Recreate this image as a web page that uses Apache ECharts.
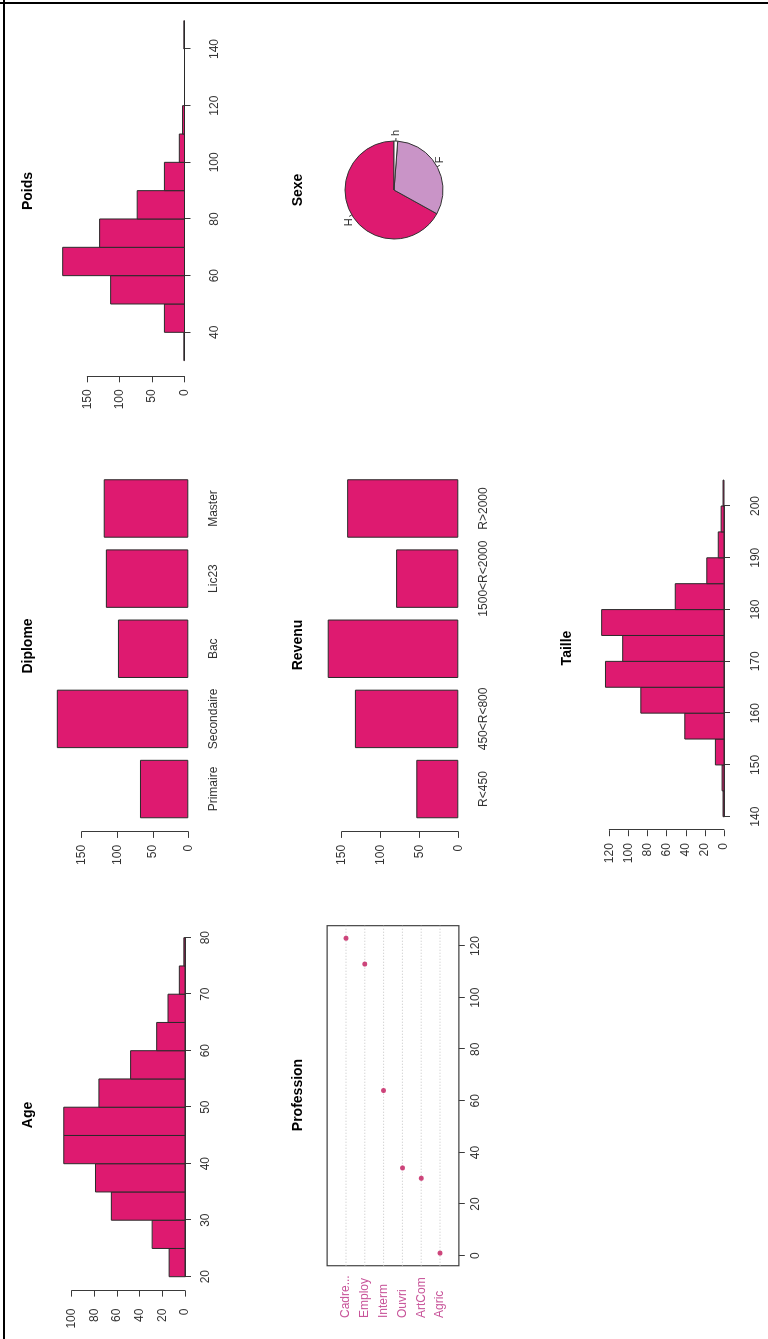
<!DOCTYPE html>
<html>
<head>
<meta charset="utf-8">
<script src="https://cdn.jsdelivr.net/npm/echarts@6/dist/echarts.min.js"></script>
<style>
html,body{margin:0;padding:0;background:#fff;overflow:hidden;width:768px;height:1339px;}
#wrap{position:absolute;left:0;top:0;width:1339px;height:768px;transform-origin:0 0;transform:translate(0,1339px) rotate(-90deg);}
#chart{width:1339px;height:768px;}
.fl{position:absolute;background:#000;}
</style>
</head>
<body>
<div id="wrap"><div id="chart"></div></div>
<div class="fl" style="left:3px;top:0;width:2px;height:1339px"></div>
<div class="fl" style="left:0;top:2px;width:768px;height:2px"></div>
<script>
// ---------- data ----------
const ageBreaks = [20,25,30,35,40,45,50,55,60,65,70,75,80];
const ageCounts = [14,29,65,79,107,107,76,48,25,15,5,1];
const ageXTicks = [20,30,40,50,60,70,80];
const ageYTicks = [0,20,40,60,80,100];

const poidsBreaks = [30,40,50,60,70,80,90,100,110,120,130,140,150];
const poidsCounts = [1,31,114,188,131,73,31,8,3,0,0,1];
const poidsXTicks = [40,60,80,100,120,140];
const poidsYTicks = [0,50,100,150];

const tailleBreaks = [140,145,150,155,160,165,170,175,180,185,190,195,200,205];
const tailleCounts = [1,2,9,41,87,124,106,128,51,18,6,3,1];
const tailleXTicks = [140,150,160,170,180,190,200];
const tailleYTicks = [0,20,40,60,80,100,120];

const diplomeCats = ['Primaire','Secondaire','Bac','Lic23','Master'];
const diplomeCounts = [68,185,99,116,119];
const diplomeYTicks = [0,50,100,150];

const revenuCats = ['R<450','450<R<800','800<R<1500','1500<R<2000','R>2000'];
const revenuCounts = [54,133,168,80,143];
const revenuYTicks = [0,50,100,150];
const revenuHiddenLabel = 2;

const professionCats = ['Agric','ArtCom','Ouvri','Interm','Employ','Cadre...'];
const professionCounts = [1,30,34,64,113,123];
const professionXTicks = [0,20,40,60,80,100,120];

const sexeCats = ['H','F','h'];
const sexeCounts = [389,185,7];

const titles = ['Age','Diplome','Poids','Profession','Revenu','Sexe','Taille'];

// ---------- styles ----------
const FONT = "'Liberation Sans', Arial, Helvetica, sans-serif";
const BAR = '#DE1A70';
const EDGE = '#2a2a2a';
const AX = '#3a3a3a';
const TXT = '#333333';
const PINK_TXT = '#C8559A';
const DOT = '#C2185B';

function hist(breaks, counts){ return counts.map((c,i)=>[breaks[i], breaks[i+1], c]); }
function histItem(params, api){
  const a = api.coord([api.value(0), 0]);
  const b = api.coord([api.value(1), api.value(2)]);
  return {type:'rect', shape:{x:a[0], y:b[1], width:b[0]-a[0], height:a[1]-b[1]},
          style:{fill:BAR, stroke:EDGE, lineWidth:1}};
}
function valAxis(gi, ticks, offset, labelMargin, extra){
  return Object.assign({
    type:'value', gridIndex:gi, min:ticks[0], max:ticks[ticks.length-1], interval:ticks[1]-ticks[0],
    offset:offset,
    axisLine:{show:true, lineStyle:{color:AX, width:1}},
    axisTick:{show:true, length:6, inside:false, lineStyle:{color:AX, width:1}},
    axisLabel:{color:TXT, fontSize:12, fontFamily:FONT, margin:labelMargin, showMinLabel:true, showMaxLabel:true},
    splitLine:{show:false}
  }, extra||{});
}
function yValAxis(gi, ticks, offset, labelMargin){
  return valAxis(gi, ticks, offset, labelMargin, {position:'left'});
}
function catAxis(gi, cats, showFn){
  return {type:'category', gridIndex:gi, data:cats, boundaryGap:true,
    axisLine:{show:false}, axisTick:{show:false},
    axisLabel:{color:TXT, fontSize:12, fontFamily:FONT, margin:19, interval: showFn || 0}};
}

// profession box extent (R dotchart: 4% padding on the data range, rows 0..n+1)
const pLo = Math.min(...professionCounts), pHi = Math.max(...professionCounts);
const pPad = 0.04*(pHi-pLo);
const boxX0 = pLo - pPad, boxX1 = pHi + pPad;

const grids = [
  {left:62.3,  top:71.7,  width:339,   height:113.3}, // Age
  {left:514.9, top:81.7,  width:350.7, height:106.6}, // Diplome
  {left:1006.7,top:87.3,  width:283.3, height:97.2},  // Poids
  {left:83.3,  top:346,   width:309.7, height:94},    // Profession
  {left:514.9, top:341.7, width:350.7, height:116.6}, // Revenu
  {left:522.3, top:609.3, width:310.7, height:114.7}  // Taille
].map(g=>Object.assign({containLabel:false, outerBoundsMode:'none', show:false}, g));

const titlePos = [[224,28],[693,28],[1148,28],[244,298],[694,298],[1149,298],[691,567]];

const option = {
  animation:false,
  backgroundColor:'#ffffff',
  textStyle:{fontFamily:FONT},
  grid: grids,
  xAxis: [
    valAxis(0, ageXTicks, 4.8, 10),
    catAxis(1, diplomeCats),
    valAxis(2, poidsXTicks, 5.4, 19),
    valAxis(3, professionXTicks, 18.8, 11, {axisLine:{show:false}}),
    catAxis(4, revenuCats, (i)=> i !== revenuHiddenLabel),
    valAxis(5, tailleXTicks, 5, 21)
  ],
  yAxis: [
    yValAxis(0, ageYTicks, 13.9, 18),
    yValAxis(1, diplomeYTicks, 7.8, 13),
    yValAxis(2, poidsYTicks, 44, 13),
    {type:'category', gridIndex:3, data:professionCats, boundaryGap:false,
      axisLine:{show:false}, axisTick:{show:false}, splitLine:{show:false},
      axisLabel:{color:PINK_TXT, fontSize:12, fontFamily:FONT, align:'left', margin:62.3, interval:0}},
    yValAxis(4, revenuYTicks, 7.8, 13),
    yValAxis(5, tailleYTicks, 13.5, 13)
  ],
  graphic: titles.map((t,i)=>({type:'text', x:titlePos[i][0], y:titlePos[i][1],
    style:{text:t, fill:'#000', font:'bold 14px '+FONT, textAlign:'center', textVerticalAlign:'middle'}})),
  series: [
    {type:'custom', xAxisIndex:0, yAxisIndex:0, clip:false, encode:{x:[0,1], y:2},
      data:hist(ageBreaks, ageCounts), renderItem:histItem},
    {type:'bar', xAxisIndex:1, yAxisIndex:1, clip:false, data:diplomeCounts, barCategoryGap:'16.667%',
      itemStyle:{color:BAR, borderColor:EDGE, borderWidth:1}},
    {type:'custom', xAxisIndex:2, yAxisIndex:2, clip:false, encode:{x:[0,1], y:2},
      data:hist(poidsBreaks, poidsCounts), renderItem:histItem},
    // profession box
    {type:'custom', xAxisIndex:3, yAxisIndex:3, clip:false, z:1, data:[[boxX0, -1]],
      renderItem:function(params, api){
        const a = api.coord([boxX0, -1]);
        const b = api.coord([boxX1, professionCats.length]);
        return {type:'rect', shape:{x:a[0], y:b[1], width:b[0]-a[0], height:a[1]-b[1]},
          style:{fill:'none', stroke:'#444', lineWidth:1.2}};
      }},
    // profession dotted guide lines
    {type:'custom', xAxisIndex:3, yAxisIndex:3, clip:false, z:1,
      data:professionCats.map((c,i)=>[boxX0, i]),
      renderItem:function(params, api){
        const i = params.dataIndex;
        const a = api.coord([boxX0, i]);
        const b = api.coord([boxX1, i]);
        return {type:'line', shape:{x1:a[0], y1:a[1], x2:b[0], y2:b[1]},
          style:{stroke:'#c4c4c4', lineWidth:1, lineDash:[1,2]}};
      }},
    {type:'scatter', xAxisIndex:3, yAxisIndex:3, z:3, clip:false, symbol:'circle', symbolSize:5,
      data:professionCounts.map((v,i)=>[v,i]), itemStyle:{color:DOT}},
    {type:'bar', xAxisIndex:4, yAxisIndex:4, clip:false, data:revenuCounts, barCategoryGap:'16.667%',
      itemStyle:{color:BAR, borderColor:EDGE, borderWidth:1}},
    {type:'pie', center:[1149,394], radius:49, startAngle:0, clockwise:false, avoidLabelOverlap:false,
      color:['#DE1A70','#C994C7','#ffffff'],
      itemStyle:{borderColor:'#333', borderWidth:1},
      label:{show:true, position:'outside', color:TXT, fontSize:11, fontFamily:FONT, distanceToLabelLine:2},
      labelLine:{show:true, length:3, length2:0, smooth:false, lineStyle:{color:'#333', width:1}},
      emphasis:{disabled:true},
      data:sexeCats.map((c,i)=>({name:c, value:sexeCounts[i]}))},
    {type:'custom', xAxisIndex:5, yAxisIndex:5, clip:false, encode:{x:[0,1], y:2},
      data:hist(tailleBreaks, tailleCounts), renderItem:histItem}
  ]
};
const chart = echarts.init(document.getElementById('chart'), null, {renderer:'canvas', width:1339, height:768});
chart.setOption(option);
</script>
</body>
</html>
